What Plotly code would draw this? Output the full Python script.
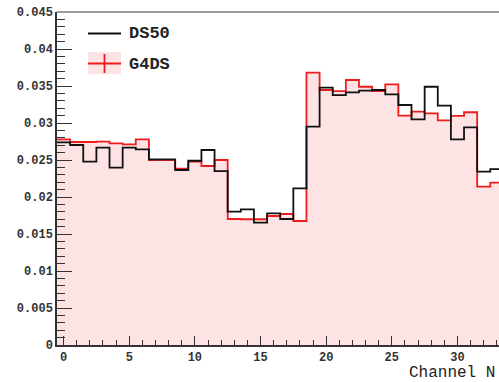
import plotly.graph_objects as go

# ---- data ----
channels = list(range(34))
ds50 = [0.02739, 0.02703, 0.02477, 0.02666, 0.02396, 0.02666, 0.02644, 0.02509,
        0.02509, 0.02365, 0.02490, 0.02635, 0.02351, 0.01802, 0.01833, 0.01653,
        0.01780, 0.01703, 0.02117, 0.02950, 0.03477, 0.03378, 0.03415, 0.03437,
        0.03446, 0.03388, 0.03243, 0.03050, 0.03490, 0.03234, 0.02780, 0.02942,
        0.02342, 0.02378]
g4ds = [0.02780, 0.02743, 0.02743, 0.02747, 0.02725, 0.02712, 0.02780, 0.02500,
        0.02500, 0.02383, 0.02480, 0.02419, 0.02500, 0.01703, 0.01699, 0.01699,
        0.01743, 0.01770, 0.01676, 0.03680, 0.03446, 0.03432, 0.03581, 0.03490,
        0.03432, 0.03523, 0.03099, 0.03153, 0.03131, 0.03036, 0.03095, 0.03145,
        0.02139, 0.02193]
y_ticks = [0, 0.005, 0.01, 0.015, 0.02, 0.025, 0.03, 0.035, 0.04, 0.045]
y_ticktext = ["0", "0.005", "0.01", "0.015", "0.02", "0.025", "0.03", "0.035", "0.04", "0.045"]
x_ticks = [0, 5, 10, 15, 20, 25, 30]
x_ticktext = ["0", "5", "10", "15", "20", "25", "30"]
series_names = ["DS50", "G4DS"]
x_title = "Channel N"  # as visible in the (cropped) reference

W, H = 499, 382
L, R, T, B = 57, 0, 12, 37
PW, PH = W - L - R, H - T - B


def px(x):
    return (x - L) / PW


def py(y):
    return (H - B - y) / PH


def steps(vals):
    xs = [c - 0.5 for c in channels] + [channels[-1] + 0.5]
    ys = list(vals) + [vals[-1]]
    return xs, ys


FONT = "Liberation Mono"
fig = go.Figure()

xr, yr = steps(g4ds)
fig.add_trace(go.Scatter(x=xr, y=yr, mode="lines", line=dict(shape="hv", color="#ee1c1c", width=1.8),
                         fill="tozeroy", fillcolor="rgb(253,227,227)", name=series_names[1],
                         showlegend=False))
xb, yb = steps(ds50)
fig.add_trace(go.Scatter(x=xb, y=yb, mode="lines", line=dict(shape="hv", color="#111111", width=1.8),
                         name=series_names[0], showlegend=False))

# frame top line
fig.add_shape(type="line", xref="paper", yref="paper", x0=0, x1=1, y0=1, y1=1,
              line=dict(color="#7a7a7a", width=1.5))

# legend (drawn manually)
fig.add_shape(type="line", xref="paper", yref="paper", x0=px(88), x1=px(121), y0=py(33.5), y1=py(33.5),
              line=dict(color="#111111", width=1.8))
fig.add_shape(type="rect", xref="paper", yref="paper", x0=px(88), x1=px(121), y0=py(74), y1=py(52),
              fillcolor="rgb(253,227,227)", line=dict(width=0))
fig.add_shape(type="line", xref="paper", yref="paper", x0=px(88), x1=px(121), y0=py(63.5), y1=py(63.5),
              line=dict(color="#ee1c1c", width=1.8))
fig.add_shape(type="line", xref="paper", yref="paper", x0=px(104.5), x1=px(104.5), y0=py(54), y1=py(73),
              line=dict(color="#ee1c1c", width=1.8))
for name, yc in zip(series_names, [34, 64]):
    fig.add_annotation(text="<b>%s</b>" % name, xref="paper", yref="paper", x=px(127), y=py(yc),
                       xanchor="left", yanchor="middle", showarrow=False,
                       font=dict(family=FONT, size=17, color="#222222"))

fig.add_annotation(text=x_title, xref="paper", yref="paper", x=px(497), y=py(372.5),
                   xanchor="right", yanchor="middle", showarrow=False,
                   font=dict(family=FONT, size=16, color="#222222"))

fig.update_layout(
    width=W, height=H, margin=dict(l=L, r=R, t=T, b=B, pad=0),
    paper_bgcolor="white", plot_bgcolor="white", showlegend=False,
    font=dict(family=FONT, size=12, color="#333333"),
)
fig.update_xaxes(range=[-0.5, (W - 63.9) / 13.12], showgrid=False, zeroline=False,
                 showline=True, linecolor="#333333", linewidth=1.5,
                 ticks="inside", ticklen=9, tickwidth=1.3, tickcolor="#333333",
                 tickvals=x_ticks, ticktext=["<b>%s</b>" % t for t in x_ticktext],
                 tickfont=dict(family=FONT, size=12, color="#333333"),
                 minor=dict(ticks="inside", dtick=1, tick0=0, ticklen=5, tickwidth=1.3, tickcolor="#333333"))
fig.update_yaxes(range=[0, 0.045], showgrid=False, zeroline=False,
                 showline=True, linecolor="#333333", linewidth=1.5,
                 ticks="inside", ticklen=15, tickwidth=1.3, tickcolor="#333333",
                 tickvals=y_ticks, ticktext=["<b>%s</b>" % t for t in y_ticktext],
                 tickfont=dict(family=FONT, size=12, color="#333333"),
                 minor=dict(ticks="inside", dtick=0.001, tick0=0, ticklen=8, tickwidth=1.3, tickcolor="#333333"))

fig.write_html("out.html")
